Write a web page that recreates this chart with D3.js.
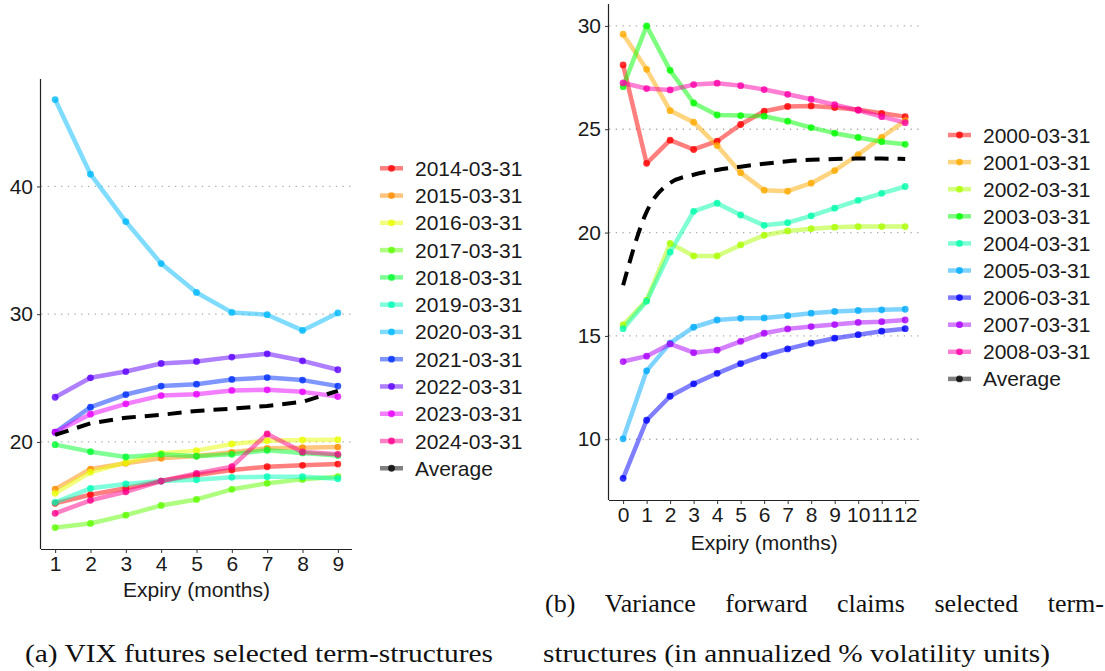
<!DOCTYPE html>
<head>
  <meta charset="utf-8">
  <script src="https://d3js.org/d3.v7.min.js"></script>
  <style>
    body { margin:0; background:#fff; }
    text { font-family: "Liberation Sans", Arial, sans-serif; fill:#1a1a1a; }
    .cap { font-family: "Liberation Serif", "Times New Roman", serif; font-size:26px; fill:#111; }
  </style>
</head>

<body>
  <script>
    // ---- panel (a): VIX futures ----
    var vixExpiry = [1, 2, 3, 4, 5, 6, 7, 8, 9];
    var vixDates = ["2014-03-31", "2015-03-31", "2016-03-31", "2017-03-31", "2018-03-31", "2019-03-31",
                    "2020-03-31", "2021-03-31", "2022-03-31", "2023-03-31", "2024-03-31"];
    var vix2014 = [15.2, 15.87, 16.37, 16.94, 17.41, 17.8, 18.06, 18.17, 18.27];
    var vix2015 = [16.31, 17.88, 18.33, 18.72, 18.9, 19.19, 19.5, 19.55, 19.6];
    var vix2016 = [15.98, 17.63, 18.38, 19.11, 19.32, 19.84, 20.1, 20.16, 20.18];
    var vix2017 = [13.3, 13.62, 14.27, 15.03, 15.5, 16.29, 16.76, 17.07, 17.28];
    var vix2018 = [19.79, 19.24, 18.82, 19.03, 18.88, 19.03, 19.35, 19.14, 18.93];
    var vix2019 = [15.27, 16.37, 16.71, 16.94, 17.04, 17.23, 17.28, 17.28, 17.12];
    var vix2020 = [46.8, 40.96, 37.25, 33.96, 31.7, 30.14, 29.96, 28.73, 30.1];
    var vix2021 = [20.76, 22.72, 23.71, 24.37, 24.52, 24.89, 25.04, 24.84, 24.37];
    var vix2022 = [23.5, 25.02, 25.51, 26.14, 26.3, 26.64, 26.9, 26.35, 25.65];
    var vix2023 = [20.76, 22.17, 22.98, 23.63, 23.74, 24.03, 24.08, 23.92, 23.55];
    var vix2024 = [14.41, 15.43, 16.1, 16.94, 17.54, 18.06, 20.63, 19.22, 19.03];
    var vixAverage = [20.55, 21.46, 21.9, 22.12, 22.43, 22.6, 22.82, 23.14, 24.0];
    var vixYTicks = [20, 30, 40];

    // ---- panel (b): variance forward claims ----
    var varExpiry = [0, 1, 2, 3, 4, 5, 6, 7, 8, 9, 10, 11, 12];
    var varDates = ["2000-03-31", "2001-03-31", "2002-03-31", "2003-03-31", "2004-03-31",
                    "2005-03-31", "2006-03-31", "2007-03-31", "2008-03-31"];
    var var2000 = [28.11, 23.35, 24.47, 24.02, 24.42, 25.23, 25.87, 26.1, 26.13, 26.05, 25.94, 25.77, 25.61];
    var var2001 = [29.6, 27.9, 25.9, 25.34, 24.21, 22.9, 22.05, 22.0, 22.39, 23.0, 23.77, 24.61, 25.42];
    var var2002 = [15.53, 16.72, 19.48, 18.87, 18.87, 19.4, 19.87, 20.08, 20.19, 20.26, 20.29, 20.29, 20.29];
    var var2003 = [27.06, 30.0, 27.85, 26.27, 25.69, 25.66, 25.63, 25.39, 25.08, 24.81, 24.6, 24.4, 24.27];
    var var2004 = [15.35, 16.68, 19.05, 21.03, 21.42, 20.85, 20.35, 20.48, 20.81, 21.18, 21.56, 21.9, 22.23];
    var var2005 = [10.02, 13.31, 14.65, 15.42, 15.77, 15.85, 15.87, 15.98, 16.1, 16.18, 16.23, 16.26, 16.29];
    var var2006 = [8.11, 10.92, 12.08, 12.68, 13.19, 13.66, 14.05, 14.37, 14.65, 14.89, 15.06, 15.23, 15.35];
    var var2007 = [13.76, 14.02, 14.61, 14.19, 14.31, 14.74, 15.13, 15.34, 15.45, 15.55, 15.65, 15.69, 15.77];
    var var2008 = [27.24, 26.97, 26.9, 27.16, 27.23, 27.11, 26.92, 26.69, 26.45, 26.19, 25.92, 25.61, 25.32];
    var varAverage = [17.45, 21.0, 22.4, 22.8, 23.03, 23.19, 23.33, 23.45, 23.52, 23.56, 23.58, 23.58, 23.56];
    var varYTicks = [10, 15, 20, 25, 30];

    var svg = d3.select("body").append("svg")
      .attr("width", 1105)
      .attr("height", 671);

    // R-style rainbow(n)
    function rainbow(n) {
      return d3.range(n).map(function(i) { return d3.hsl(360 * i / n, 1, 0.5).formatHex(); });
    }

    function drawPanel(opt) {
      var x = d3.scaleLinear().domain(opt.xDomain).range([opt.left, opt.right]);
      var y = d3.scaleLinear().domain(opt.yDomain).range([opt.bottom, opt.top]);
      var colors = rainbow(opt.series.length);
      var g = svg.append("g");

      // dotted grid
      g.selectAll(".grid").data(opt.yTicks).enter().append("line")
        .attr("x1", opt.left).attr("x2", opt.right)
        .attr("y1", function(d) { return y(d); }).attr("y2", function(d) { return y(d); })
        .attr("stroke", "#aaa").attr("stroke-width", 1.3).attr("stroke-dasharray", "1.3,5.4");

      var line = d3.line()
        .x(function(d, i) { return x(opt.expiry[i]); })
        .y(function(d) { return y(d); });

      g.selectAll(".series").data(opt.series).enter().append("path")
        .attr("d", function(d) { return line(d); })
        .attr("fill", "none")
        .attr("stroke", function(d, i) { return colors[i]; })
        .attr("stroke-opacity", 0.5)
        .attr("stroke-width", 4.5)
        .attr("stroke-linejoin", "round");

      opt.series.forEach(function(s, k) {
        g.selectAll(".pt" + k).data(s).enter().append("circle")
          .attr("cx", function(d, i) { return x(opt.expiry[i]); })
          .attr("cy", function(d) { return y(d); })
          .attr("r", 3.4)
          .attr("fill", colors[k])
          .attr("fill-opacity", 0.8);
      });

      g.append("path")
        .attr("d", line.curve(opt.avgCurve)(opt.average))
        .attr("fill", "none")
        .attr("stroke", "#000")
        .attr("stroke-width", 4)
        .attr("stroke-dasharray", "14,9");

      // axes
      var xAxis = g.append("g").attr("transform", "translate(0," + opt.bottom + ")")
        .call(d3.axisBottom(x).tickValues(opt.expiry).tickSize(4).tickPadding(3).tickSizeOuter(0));
      xAxis.select(".domain").attr("stroke", "#222").attr("stroke-width", 1.2)
        .attr("d", "M" + opt.left + ",0.5H" + opt.right);
      xAxis.selectAll(".tick line").attr("stroke", "#333");
      xAxis.selectAll(".tick text").attr("font-size", 21).attr("fill", "#1a1a1a")
        .attr("font-family", "Liberation Sans, Arial, sans-serif");

      var yAxis = g.append("g").attr("transform", "translate(" + opt.left + ",0)")
        .call(d3.axisLeft(y).tickValues(opt.yTicks).tickSize(4).tickPadding(4).tickSizeOuter(0));
      yAxis.select(".domain").attr("stroke", "#222").attr("stroke-width", 1.2)
        .attr("d", "M-0.5," + opt.top + "V" + opt.bottom);
      yAxis.selectAll(".tick line").attr("stroke", "#333");
      yAxis.selectAll(".tick text").attr("font-size", 21).attr("fill", "#1a1a1a")
        .attr("font-family", "Liberation Sans, Arial, sans-serif");

      g.append("text")
        .attr("x", (opt.left + opt.right) / 2).attr("y", opt.titleY)
        .attr("text-anchor", "middle").attr("font-size", 21)
        .text("Expiry (months)");

      // legend
      var labels = opt.dates.concat(["Average"]);
      var lcolors = colors.concat(["#000"]);
      var lg = g.selectAll(".leg").data(labels).enter().append("g")
        .attr("transform", function(d, i) { return "translate(" + opt.legX + "," + (opt.legY + i * opt.legStep) + ")"; });
      lg.append("line").attr("x1", 0).attr("x2", 23).attr("y1", 0).attr("y2", 0)
        .attr("stroke", function(d, i) { return lcolors[i]; })
        .attr("stroke-opacity", 0.5).attr("stroke-width", 4.5);
      lg.append("circle").attr("cx", 11.5).attr("cy", 0).attr("r", 3.4)
        .attr("fill", function(d, i) { return lcolors[i]; }).attr("fill-opacity", 0.8);
      lg.append("text").attr("x", 35).attr("y", 7.5).attr("font-size", 21)
        .text(function(d) { return d; });
    }

    drawPanel({
      expiry: vixExpiry, dates: vixDates,
      series: [vix2014, vix2015, vix2016, vix2017, vix2018, vix2019, vix2020, vix2021, vix2022, vix2023, vix2024],
      average: vixAverage, avgCurve: d3.curveLinear, yTicks: vixYTicks,
      xDomain: [0.6, 9.4], yDomain: [11.62, 48.41],
      left: 41, right: 352, top: 79, bottom: 549, titleY: 597,
      legX: 380, legY: 168.3, legStep: 27.27
    });

    drawPanel({
      expiry: varExpiry, dates: varDates,
      series: [var2000, var2001, var2002, var2003, var2004, var2005, var2006, var2007, var2008],
      average: varAverage, avgCurve: d3.curveMonotoneX, yTicks: varYTicks,
      xDomain: [-0.6, 12.6], yDomain: [7.06, 31.06],
      left: 609, right: 919.3, top: 4, bottom: 500, titleY: 550,
      legX: 948, legY: 135, legStep: 27.1
    });

    // captions
    svg.append("text").attr("class", "cap").attr("x", 25).attr("y", 662)
      .attr("textLength", 468).attr("lengthAdjust", "spacingAndGlyphs")
      .text("(a) VIX futures selected term-structures");

    // justified first line of caption (b)
    var words = ["(b)", "Variance", "forward", "claims", "selected", "term-"];
    var wt = svg.selectAll(".capw").data(words).enter().append("text")
      .attr("class", "cap").attr("y", 612).text(function(d) { return d; });
    var widths = [];
    wt.each(function() { widths.push(this.getComputedTextLength()); });
    var x0 = 545, x1 = 1104;
    var gap = (x1 - x0 - d3.sum(widths)) / (words.length - 1);
    var cx = x0;
    wt.attr("x", function(d, i) { var p = cx; cx += widths[i] + gap; return p; });

    svg.append("text").attr("class", "cap").attr("x", 543).attr("y", 662)
      .attr("textLength", 507).attr("lengthAdjust", "spacingAndGlyphs")
      .text("structures (in annualized % volatility units)");
  </script>
</body>
